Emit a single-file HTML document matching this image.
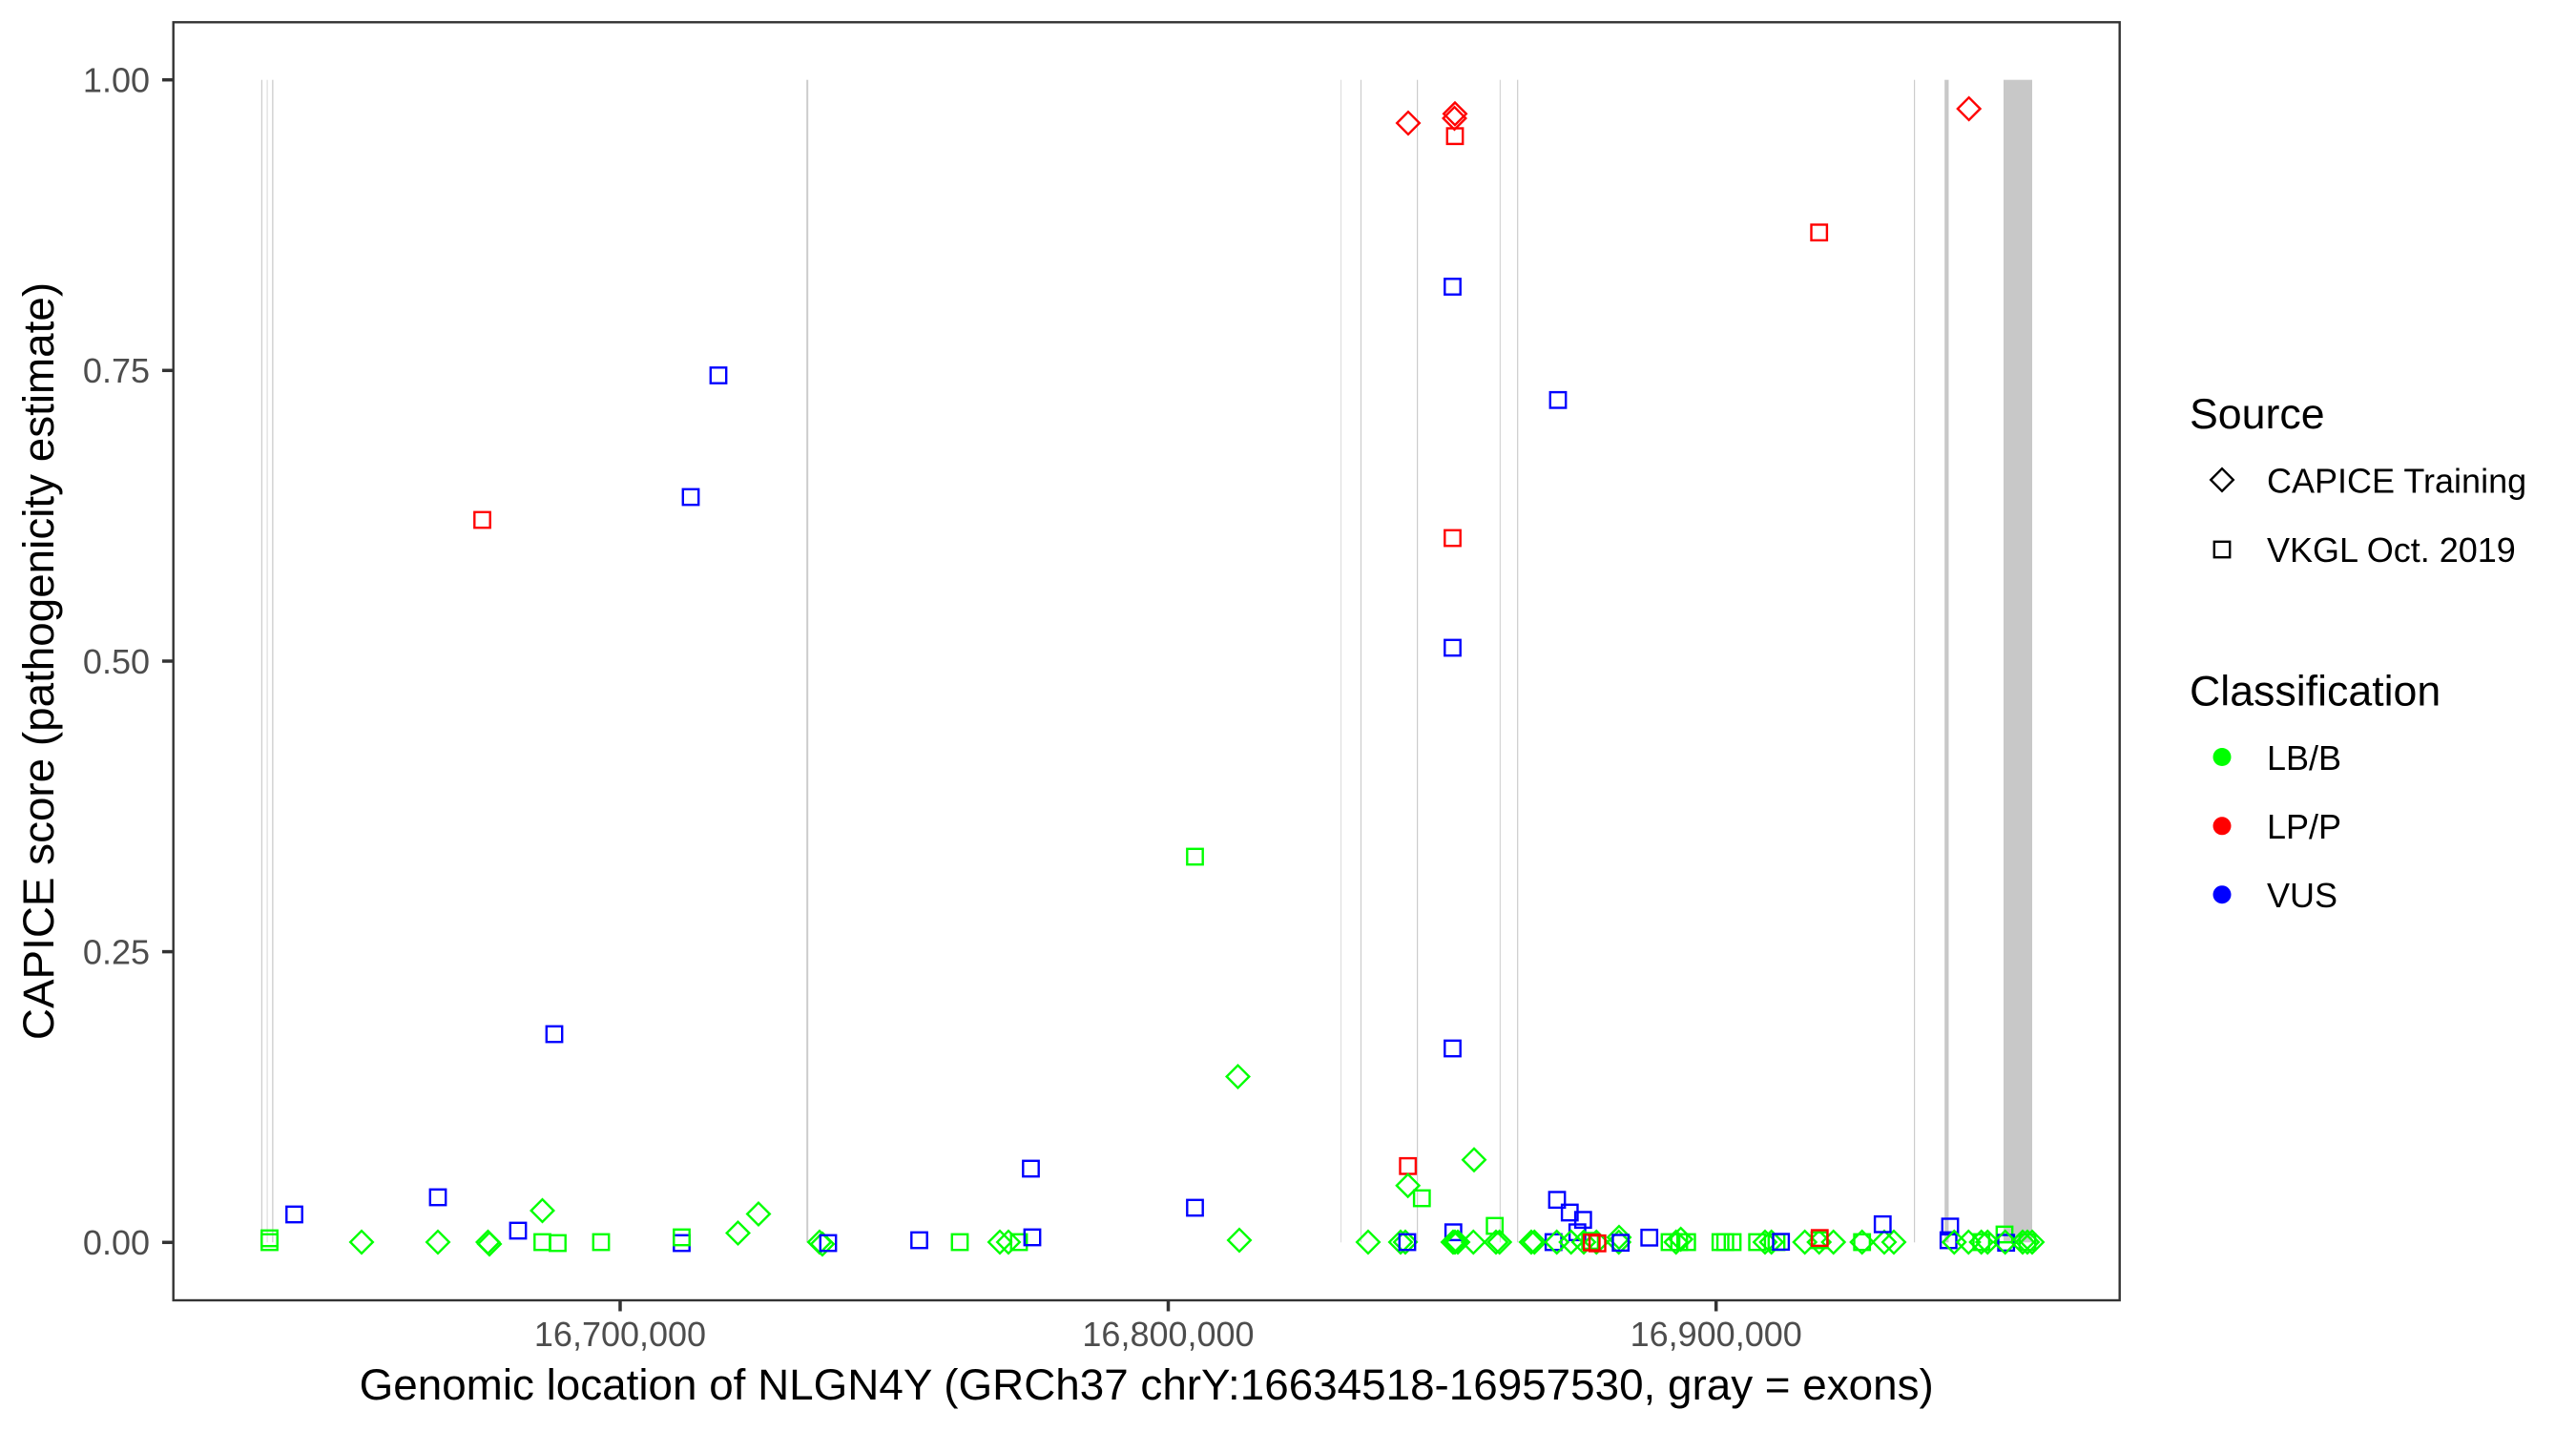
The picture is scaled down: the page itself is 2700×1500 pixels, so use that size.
<!DOCTYPE html>
<html>
<head>
<meta charset="utf-8">
<style>
html,body{margin:0;padding:0;background:#fff;}
svg{display:block;}
text{font-family:"Liberation Sans", Arial, Helvetica, sans-serif;}
</style>
</head>
<body>
<svg width="2700" height="1500" viewBox="0 0 2700 1500" xmlns="http://www.w3.org/2000/svg">
<defs>
  <path id="dg" d="M0,-11.8 L11.8,0 L0,11.8 L-11.8,0 Z" fill="none" stroke="#00ff00" stroke-width="2.4"/>
  <path id="dr" d="M0,-11.8 L11.8,0 L0,11.8 L-11.8,0 Z" fill="none" stroke="#ff0000" stroke-width="2.4"/>
  <rect id="sg" x="-8.2" y="-8.2" width="16.4" height="16.4" fill="none" stroke="#00ff00" stroke-width="2.4"/>
  <rect id="sr" x="-8.2" y="-8.2" width="16.4" height="16.4" fill="none" stroke="#ff0000" stroke-width="2.4"/>
  <rect id="sb" x="-8.2" y="-8.2" width="16.4" height="16.4" fill="none" stroke="#0000ff" stroke-width="2.4"/>
</defs>
<rect x="0" y="0" width="2700" height="1500" fill="#fff"/>

<!-- exon lines -->
<g fill="#cccccc">
  <rect x="273.8" y="83.7" width="1.2" height="1218.6"/>
  <rect x="279.5" y="83.7" width="1.2" height="1218.6" fill="#dddddd"/>
  <rect x="285.2" y="83.7" width="1.3" height="1218.6"/>
  <rect x="845.2" y="83.7" width="2" height="1218.6"/>
  <rect x="1405" y="83.7" width="1.1" height="1218.6" fill="#dddddd"/>
  <rect x="1425.9" y="83.7" width="1.2" height="1218.6"/>
  <rect x="1485" y="83.7" width="1.2" height="1218.6"/>
  <rect x="1571.8" y="83.7" width="1.2" height="1218.6" fill="#d6d6d6"/>
  <rect x="1590.1" y="83.7" width="1.2" height="1218.6"/>
  <rect x="2006" y="83.7" width="1.2" height="1218.6"/>
  <rect x="2038.2" y="83.7" width="4.3" height="1218.6" fill="#c8c8c8"/>
  <rect x="2100" y="83.7" width="30" height="1218.6" fill="#c8c8c8"/>
</g>

<!-- points -->
<g>
<use href="#sg" x="282.5" y="1302"/><use href="#sg" x="282.5" y="1298"/>
<use href="#sb" x="308.5" y="1273"/>
<use href="#dg" x="379" y="1302"/>
<use href="#sb" x="459" y="1255"/>
<use href="#dg" x="459" y="1302"/>
<use href="#dg" x="511.5" y="1302"/><use href="#dg" x="513" y="1304"/>
<use href="#sr" x="505.5" y="545"/>
<use href="#sb" x="543" y="1290"/>
<use href="#dg" x="568.5" y="1269"/>
<use href="#sg" x="568.5" y="1302"/>
<use href="#sg" x="584.5" y="1303"/>
<use href="#sb" x="581" y="1084"/>
<use href="#sg" x="630" y="1302"/>
<use href="#sb" x="714.5" y="1303"/>
<use href="#sg" x="714.5" y="1297"/>
<use href="#sb" x="724" y="521"/>
<use href="#sb" x="753" y="393.5"/>
<use href="#dg" x="773.5" y="1292.5"/>
<use href="#dg" x="795" y="1272.5"/>
<use href="#dg" x="859" y="1302"/><use href="#dg" x="862" y="1304"/>
<use href="#sb" x="868" y="1303"/>
<use href="#sb" x="963.5" y="1300"/>
<use href="#sg" x="1006" y="1302"/>
<use href="#dg" x="1048" y="1302"/><use href="#dg" x="1057" y="1302"/>
<use href="#sg" x="1068" y="1302"/>
<use href="#sb" x="1080.5" y="1225"/>
<use href="#sb" x="1082" y="1297"/>
<use href="#sg" x="1252.5" y="898"/>
<use href="#sb" x="1252.5" y="1266"/>
<use href="#dg" x="1297.5" y="1128.5"/>
<use href="#dg" x="1299" y="1300"/>

<use href="#dg" x="1434" y="1302"/>
<use href="#dg" x="1468" y="1302"/><use href="#dg" x="1473" y="1302"/>
<use href="#sb" x="1475" y="1302"/>
<use href="#sr" x="1475.7" y="1222.3"/>
<use href="#dg" x="1475.7" y="1242.7"/>
<use href="#sg" x="1490.3" y="1256"/>
<use href="#dr" x="1476" y="129"/>
<use href="#dg" x="1545" y="1215.7"/>
<use href="#sb" x="1523.3" y="1291.7"/>
<use href="#dg" x="1523" y="1302"/><use href="#dg" x="1525" y="1302"/><use href="#dg" x="1528" y="1302"/>
<use href="#dr" x="1525" y="119.3"/><use href="#dr" x="1524.5" y="124"/>
<use href="#sr" x="1525" y="142.7"/>
<use href="#sb" x="1522.5" y="300.5"/>
<use href="#sr" x="1522.5" y="564"/>
<use href="#sb" x="1522.5" y="679"/>
<use href="#sb" x="1522.5" y="1099"/>
<use href="#dg" x="1544.3" y="1302"/>
<use href="#sg" x="1566.7" y="1285"/>
<use href="#dg" x="1568" y="1302"/><use href="#dg" x="1571.7" y="1302"/>
<use href="#dg" x="1605" y="1302"/><use href="#dg" x="1608.3" y="1302"/>
<use href="#sb" x="1633" y="419.3"/>
<use href="#sb" x="1632" y="1257.7"/>
<use href="#sb" x="1645.3" y="1271"/>
<use href="#sb" x="1659.3" y="1278.7"/>
<use href="#sb" x="1653.3" y="1291.7"/>
<use href="#sb" x="1628.3" y="1302"/>
<use href="#dg" x="1631.7" y="1302"/><use href="#dg" x="1646.7" y="1302"/><use href="#dg" x="1660" y="1302"/><use href="#dg" x="1673.3" y="1302"/>
<use href="#sg" x="1666.7" y="1300.7"/>
<use href="#sr" x="1668.3" y="1302.3"/><use href="#sr" x="1674.3" y="1303.3"/>
<use href="#dg" x="1696.7" y="1302"/><use href="#dg" x="1697" y="1297"/>
<use href="#sb" x="1698.7" y="1302.7"/>
<use href="#sb" x="1728.7" y="1297.3"/>
<use href="#sg" x="1750" y="1302"/><use href="#sg" x="1760" y="1302"/><use href="#sg" x="1768.3" y="1302"/>
<use href="#dg" x="1756.7" y="1302"/><use href="#dg" x="1761.7" y="1299"/>
<use href="#sg" x="1803.3" y="1302"/><use href="#sg" x="1808.3" y="1302"/><use href="#sg" x="1816" y="1302"/>
<use href="#sg" x="1841.7" y="1302"/>
<use href="#dg" x="1850" y="1302"/><use href="#dg" x="1856.7" y="1302"/>
<use href="#sg" x="1862" y="1302"/>
<use href="#sb" x="1866.7" y="1301.7"/>
<use href="#dg" x="1891.7" y="1302"/><use href="#dg" x="1906.7" y="1302"/><use href="#dg" x="1921.7" y="1302"/>
<use href="#sg" x="1907" y="1300"/>
<use href="#sr" x="1907.3" y="1297.7"/>
<use href="#sr" x="1906.7" y="243.7"/>
<use href="#dg" x="1951.7" y="1302"/><use href="#sg" x="1951.7" y="1302"/>
<use href="#dg" x="1975" y="1302"/><use href="#dg" x="1985" y="1302"/>
<use href="#sb" x="1973.3" y="1283.3"/>
<use href="#sb" x="2044" y="1285.7"/>
<use href="#sb" x="2042.3" y="1300"/>
<use href="#dg" x="2048.3" y="1302"/><use href="#dg" x="2063.3" y="1302"/><use href="#dg" x="2076.7" y="1302"/><use href="#sg" x="2076.7" y="1302"/><use href="#dg" x="2083.3" y="1302"/>
<use href="#dr" x="2063.7" y="114"/>
<use href="#sg" x="2101" y="1294"/>
<use href="#sb" x="2102.7" y="1302.7"/>
<use href="#dg" x="2101.7" y="1302"/><use href="#dg" x="2120" y="1302"/><use href="#dg" x="2125" y="1302"/><use href="#dg" x="2130" y="1302"/>
<use href="#sg" x="2125" y="1302"/>
</g>

<!-- panel border -->
<rect x="181.7" y="23.3" width="2040" height="1339.7" fill="none" stroke="#333333" stroke-width="2.4"/>

<!-- y ticks -->
<g stroke="#333333" stroke-width="3.5">
  <line x1="170" y1="83.7" x2="181.7" y2="83.7"/>
  <line x1="170" y1="388.3" x2="181.7" y2="388.3"/>
  <line x1="170" y1="693" x2="181.7" y2="693"/>
  <line x1="170" y1="997.6" x2="181.7" y2="997.6"/>
  <line x1="170" y1="1302.3" x2="181.7" y2="1302.3"/>
</g>
<g font-size="36" fill="#4d4d4d" text-anchor="end">
  <text x="157" y="96.5">1.00</text>
  <text x="157" y="401">0.75</text>
  <text x="157" y="706">0.50</text>
  <text x="157" y="1010.5">0.25</text>
  <text x="157" y="1315">0.00</text>
</g>

<!-- x ticks -->
<g stroke="#333333" stroke-width="3.5">
  <line x1="650" y1="1363" x2="650" y2="1374.5"/>
  <line x1="1224.5" y1="1363" x2="1224.5" y2="1374.5"/>
  <line x1="1798.7" y1="1363" x2="1798.7" y2="1374.5"/>
</g>
<g font-size="36" fill="#4d4d4d" text-anchor="middle">
  <text x="650" y="1411">16,700,000</text>
  <text x="1224.5" y="1411">16,800,000</text>
  <text x="1798.7" y="1411">16,900,000</text>
</g>

<!-- axis titles -->
<text x="1201.7" y="1467" font-size="45.8" fill="#000" text-anchor="middle">Genomic location of NLGN4Y (GRCh37 chrY:16634518-16957530, gray = exons)</text>
<text transform="translate(56,693) rotate(-90)" font-size="45.8" fill="#000" text-anchor="middle">CAPICE score (pathogenicity estimate)</text>

<!-- legend -->
<text x="2295" y="449" font-size="44.7" fill="#000">Source</text>
<path d="M2329,491.2 L2340.8,503 L2329,514.8 L2317.2,503 Z" fill="none" stroke="#000" stroke-width="2.4"/>
<text x="2376" y="516.5" font-size="36" fill="#000">CAPICE Training</text>
<rect x="2320.8" y="567.8" width="16.4" height="16.4" fill="none" stroke="#000" stroke-width="2.4"/>
<text x="2376" y="589" font-size="36" fill="#000">VKGL Oct. 2019</text>

<text x="2295" y="739.6" font-size="44.7" fill="#000">Classification</text>
<circle cx="2329" cy="793.5" r="9.5" fill="#00ff00"/>
<text x="2376" y="807" font-size="36" fill="#000">LB/B</text>
<circle cx="2329" cy="865.8" r="9.5" fill="#ff0000"/>
<text x="2376" y="879.2" font-size="36" fill="#000">LP/P</text>
<circle cx="2329" cy="937.7" r="9.5" fill="#0000ff"/>
<text x="2376" y="951" font-size="36" fill="#000">VUS</text>
</svg>
</body>
</html>
